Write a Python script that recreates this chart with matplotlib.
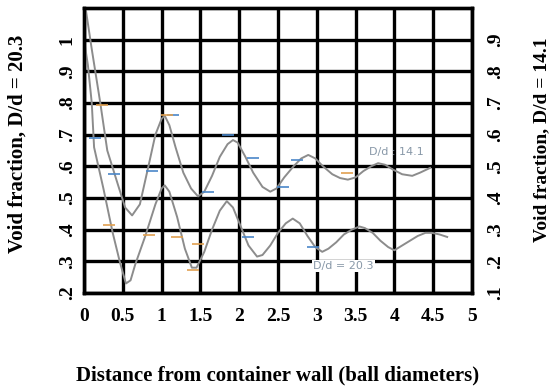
import matplotlib
matplotlib.use("Agg")
import matplotlib.pyplot as plt

# curve for D/d = 20.3 (left axis)
x_203 = [0.0, 0.05, 0.10, 0.13, 0.25, 0.37, 0.46, 0.54, 0.60, 0.66, 0.79, 0.92, 1.00, 1.04,
         1.10, 1.20, 1.30, 1.39, 1.45, 1.55, 1.65, 1.75, 1.84, 1.92, 2.02, 2.12, 2.23, 2.30,
         2.40, 2.50, 2.60, 2.69, 2.78, 2.88, 2.98, 3.07, 3.15, 3.25, 3.35, 3.45, 3.55, 3.62,
         3.72, 3.82, 3.92, 4.00, 4.10, 4.20, 4.30, 4.40, 4.48, 4.58, 4.68]
y_203 = [1.00, 0.92, 0.80, 0.66, 0.53, 0.39, 0.30, 0.23, 0.24, 0.29, 0.38, 0.48, 0.53, 0.54,
         0.52, 0.44, 0.34, 0.28, 0.28, 0.33, 0.40, 0.46, 0.49, 0.47, 0.41, 0.35, 0.315, 0.32,
         0.35, 0.39, 0.42, 0.435, 0.42, 0.38, 0.345, 0.33, 0.34, 0.36, 0.385, 0.40, 0.41, 0.405,
         0.39, 0.365, 0.345, 0.335, 0.35, 0.365, 0.38, 0.39, 0.39, 0.385, 0.377]

# curve for D/d = 14.1 (read on left scale, right scale is 0.1 lower)
x_141 = [0.02, 0.10, 0.21, 0.30, 0.44, 0.53, 0.62, 0.72, 0.83, 0.92, 1.00, 1.04, 1.10, 1.18,
         1.28, 1.38, 1.47, 1.55, 1.65, 1.75, 1.85, 1.92, 1.98, 2.08, 2.18, 2.30, 2.40, 2.48,
         2.58, 2.70, 2.80, 2.89, 2.98, 3.08, 3.20, 3.30, 3.40, 3.50, 3.60, 3.70, 3.79, 3.88,
         3.98, 4.10, 4.23, 4.33, 4.46]
y_141 = [1.10, 0.97, 0.80, 0.65, 0.54, 0.47, 0.445, 0.48, 0.60, 0.70, 0.75, 0.76, 0.73, 0.66,
         0.58, 0.53, 0.505, 0.52, 0.57, 0.63, 0.67, 0.683, 0.675, 0.63, 0.58, 0.535, 0.52, 0.53,
         0.565, 0.60, 0.625, 0.636, 0.625, 0.60, 0.575, 0.563, 0.558, 0.565, 0.585, 0.60, 0.61,
         0.605, 0.59, 0.575, 0.57, 0.58, 0.595]

# experimental dashes
blue_x = [0.14, 0.39, 0.88, 1.15, 1.86, 2.18, 2.56, 2.74, 1.60, 2.11, 2.95]
blue_y = [0.689, 0.576, 0.585, 0.762, 0.699, 0.626, 0.535, 0.62, 0.519, 0.377, 0.345]
orange_x = [0.32, 0.84, 1.20, 1.47, 1.40, 3.39, 0.23, 1.07]
orange_y = [0.415, 0.383, 0.377, 0.355, 0.273, 0.579, 0.794, 0.762]

x_ticks = [0, 0.5, 1, 1.5, 2, 2.5, 3, 3.5, 4, 4.5, 5]
x_labels = ["0", "0.5", "1", "1.5", "2", "2.5", "3", "3.5", "4", "4.5", "5"]
left_ticks = [0.2, 0.3, 0.4, 0.5, 0.6, 0.7, 0.8, 0.9, 1.0]
left_labels = [".2", ".3", ".4", ".5", ".6", ".7", ".8", ".9", "1"]
right_ticks = [0.1, 0.2, 0.3, 0.4, 0.5, 0.6, 0.7, 0.8, 0.9]
right_labels = [".1", ".2", ".3", ".4", ".5", ".6", ".7", ".8", ".9"]

serif = {"family": "Liberation Serif", "weight": "bold"}

fig = plt.figure(figsize=(5.52, 3.87), dpi=100)
ax = fig.add_axes([84 / 552, 1 - 293 / 387, 388 / 552, 285 / 387])
ax2 = ax.twinx()

ax.set_xlim(0, 5)
ax.set_ylim(0.2, 1.1)
ax2.set_ylim(0.1, 1.0)

ax.set_xticks(x_ticks)
ax.set_xticklabels(x_labels, fontdict=serif, fontsize=14)
ax.set_yticks(left_ticks)
ax.set_yticklabels(left_labels, fontdict=serif, fontsize=14, rotation=90, va="center")
ax2.set_yticks(right_ticks)
ax2.set_yticklabels(right_labels, fontdict=serif, fontsize=14, rotation=90, va="center")

ax.tick_params(axis="x", length=0, pad=11)
ax.tick_params(axis="y", length=0, pad=6)
ax2.tick_params(axis="y", length=0, pad=11)

ax.grid(True, color="black", linewidth=2.4)
ax.set_axisbelow(False)
for a in (ax, ax2):
    for s in a.spines.values():
        s.set_linewidth(2.4)

ax.plot(x_203, y_203, color="#8c8c8c", linewidth=1.4, zorder=3)
ax.plot(x_141, y_141, color="#8c8c8c", linewidth=1.4, zorder=3)
ax.plot(blue_x, blue_y, linestyle="none", marker="_", markersize=8, color="#4a86c8",
        markeredgewidth=1.2, zorder=4)
ax.plot(orange_x, orange_y, linestyle="none", marker="_", markersize=8, color="#e0a050",
        markeredgewidth=1.2, zorder=4)

ax.text(3.34, 0.285, "D/d = 20.3", fontsize=8, color="#8898a8", ha="center", va="center",
        bbox=dict(facecolor="white", edgecolor="none", pad=1), zorder=5)
ax.text(4.03, 0.645, "D/d : 14.1", fontsize=8, color="#8898a8", ha="center", va="center",
        zorder=5)

ax.set_xlabel("Distance from container wall (ball diameters)", fontdict=serif, fontsize=15)
ax.xaxis.set_label_coords(0.5, -0.256)
ax.set_ylabel("Void fraction, D/d = 20.3", fontdict=serif, fontsize=15)
ax.yaxis.set_label_coords(-0.145, 0.523)
ax2.set_ylabel("Void fraction, D/d = 14.1", fontdict=serif, fontsize=14, rotation=90)
ax2.yaxis.set_label_coords(1.158, 0.537)

fig.savefig("out.png", dpi=100)
